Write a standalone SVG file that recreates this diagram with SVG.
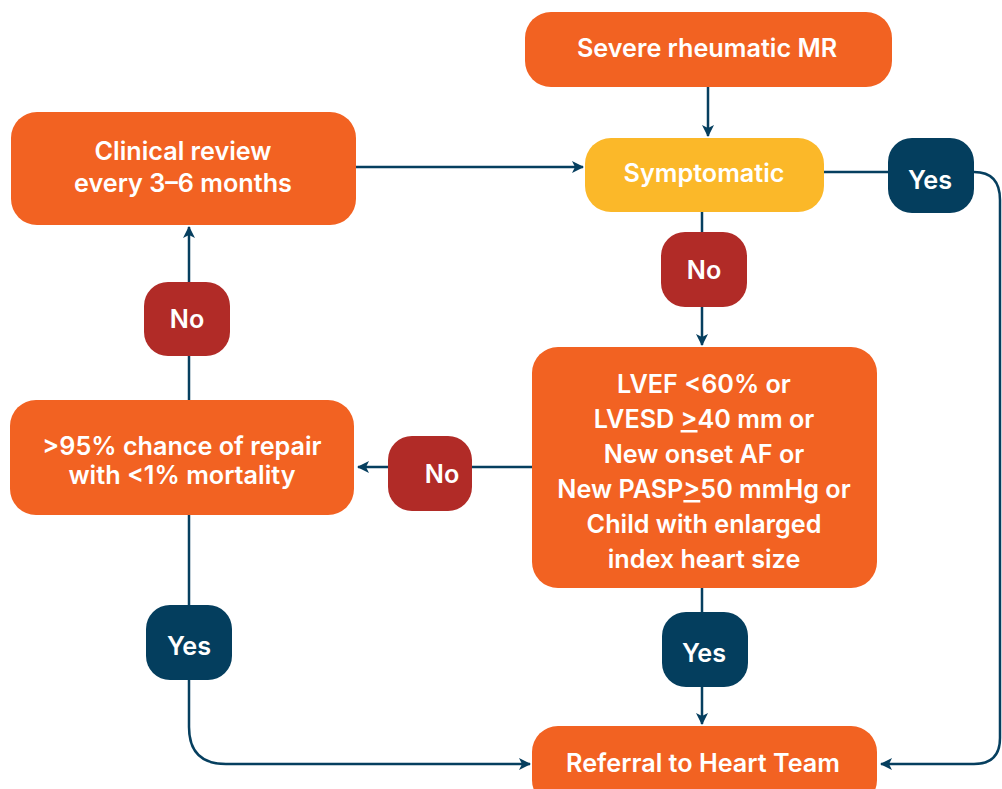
<svg xmlns="http://www.w3.org/2000/svg" width="1002" height="789" viewBox="0 0 1002 789">
  <defs>
    <marker id="arrow" viewBox="0 0 12 12" refX="11" refY="6" markerWidth="12" markerHeight="12" markerUnits="userSpaceOnUse" orient="auto">
      <path d="M0,0 L12,6 L0,12 L3,6 Z" fill="#063F5F"/>
    </marker>
    <style>
      .box { fill: #F26222; }
      .cond { fill: #FBB829; }
      .yes { fill: #043E5E; }
      .no { fill: #B12B27; }
      .lbl { font-family: Inter, "Open Sans", "Liberation Sans", sans-serif; font-weight: 600; font-size: 25.2px; fill: #FFFFFF; text-anchor: middle; }
      .edge { fill: none; stroke: #063F5F; stroke-width: 2.5; }
      .u { text-decoration: underline; }
    </style>
  </defs>
  <rect width="1002" height="789" fill="#FFFFFF"/>

  <!-- connectors -->
  <g id="connectors">
    <path class="edge" d="M708,87 V136" marker-end="url(#arrow)"/>
    <path class="edge" d="M356,167 H583" marker-end="url(#arrow)"/>
    <path class="edge" d="M824,172 H888"/>
    <path class="edge" d="M974,172 Q1000,172 1000,200 V738 Q1000,764 974,764 H881" marker-end="url(#arrow)"/>
    <path class="edge" d="M702,212 V345" marker-end="url(#arrow)"/>
    <path class="edge" d="M532,467 H358" marker-end="url(#arrow)"/>
    <path class="edge" d="M189,400 V227" marker-end="url(#arrow)"/>
    <path class="edge" d="M189,515 V727 Q189,764 226,764 H530" marker-end="url(#arrow)"/>
    <path class="edge" d="M702,588 V724" marker-end="url(#arrow)"/>
  </g>

  <g id="severe-mr">
    <rect class="box" x="525" y="12" width="367" height="75" rx="26"/>
    <text class="lbl" x="707" y="57">Severe rheumatic MR</text>
  </g>

  <g id="symptomatic">
    <rect class="cond" x="585" y="138" width="239" height="74" rx="26"/>
    <text class="lbl" x="704" y="182">Symptomatic</text>
  </g>

  <g id="yes-symptomatic">
    <rect class="yes" x="888" y="138" width="86" height="75" rx="24"/>
    <text class="lbl" x="930" y="189">Yes</text>
  </g>

  <g id="clinical-review">
    <rect class="box" x="11" y="112" width="345" height="113" rx="26"/>
    <text class="lbl" x="183" y="160">Clinical review</text>
    <text class="lbl" x="183" y="192">every 3–6 months</text>
  </g>

  <g id="no-symptomatic">
    <rect class="no" x="661" y="232" width="86" height="75" rx="24"/>
    <text class="lbl" x="704" y="279">No</text>
  </g>

  <g id="no-repair">
    <rect class="no" x="144" y="282" width="86" height="74" rx="24"/>
    <text class="lbl" x="187" y="328">No</text>
  </g>

  <g id="criteria">
    <rect class="box" x="532" y="347" width="345" height="241" rx="26"/>
    <text class="lbl" x="704" y="393">LVEF &lt;60% or</text>
    <text class="lbl" x="704" y="428">LVESD <tspan class="u">&gt;</tspan>40 mm or</text>
    <text class="lbl" x="704" y="463">New onset AF or</text>
    <text class="lbl" x="704" y="498">New PASP<tspan class="u">&gt;</tspan>50 mmHg or</text>
    <text class="lbl" x="704" y="533">Child with enlarged</text>
    <text class="lbl" x="704" y="568">index heart size</text>
  </g>

  <g id="repair-chance">
    <rect class="box" x="10" y="400" width="344" height="115" rx="26"/>
    <text class="lbl" x="182" y="455">&gt;95% chance of repair</text>
    <text class="lbl" x="182" y="484">with &lt;1% mortality</text>
  </g>

  <g id="no-criteria">
    <rect class="no" x="388" y="436" width="84" height="75" rx="24"/>
    <text class="lbl" x="442" y="483">No</text>
  </g>

  <g id="yes-repair">
    <rect class="yes" x="146" y="605" width="86" height="75" rx="24"/>
    <text class="lbl" x="189" y="655">Yes</text>
  </g>

  <g id="yes-criteria">
    <rect class="yes" x="662" y="612" width="86" height="75" rx="24"/>
    <text class="lbl" x="704" y="662">Yes</text>
  </g>

  <g id="referral">
    <rect class="box" x="532" y="726" width="345" height="80" rx="26"/>
    <text class="lbl" x="703" y="772">Referral to Heart Team</text>
  </g>
</svg>
